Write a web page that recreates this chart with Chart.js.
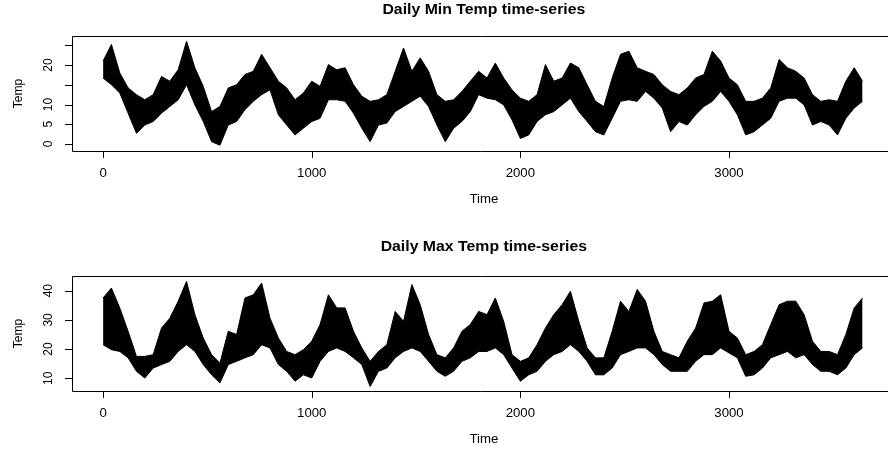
<!DOCTYPE html>
<html>
<head>
<meta charset="utf-8">
<script src="https://cdn.jsdelivr.net/npm/chart.js@4.4.1/dist/chart.umd.min.js"></script>
<style>
  body { margin: 0; background: #fff; }
  canvas { display: block; }
</style>
</head>
<body>
<canvas id="minChart" width="888" height="227"></canvas>
<canvas id="maxChart" width="888" height="227"></canvas>
<script>
// sample days (every 40 days), upper/lower edge of the daily series
const days = [0, 40, 80, 120, 160, 200, 240, 280, 320, 360, 400, 440, 480, 520, 560, 600, 640, 680, 720, 760,
  800, 840, 880, 920, 960, 1000, 1040, 1080, 1120, 1160, 1200, 1240, 1280, 1320, 1360, 1400, 1440, 1480, 1520, 1560,
  1600, 1640, 1680, 1720, 1760, 1800, 1840, 1880, 1920, 1960, 2000, 2040, 2080, 2120, 2160, 2200, 2240, 2280, 2320, 2360,
  2400, 2440, 2480, 2520, 2560, 2600, 2640, 2680, 2720, 2760, 2800, 2840, 2880, 2920, 2960, 3000, 3040, 3080, 3120, 3160,
  3200, 3240, 3280, 3320, 3360, 3400, 3440, 3480, 3520, 3560, 3600, 3640];

const minTempHigh = [21, 25.2, 18, 14.2, 12.5, 11.2, 12.5, 17.1, 15.9, 18.8, 26, 19.3, 14.6, 8.2, 9.5, 14.2, 15, 17.6, 18.4, 22.7,
  19.3, 15.9, 14.2, 11.2, 12.9, 15.9, 14.6, 20.1, 18.8, 19.3, 15, 12.1, 10.8, 11.2, 12.5, 18.4, 24.3, 18.4, 21.8, 18.4,
  12.5, 10.8, 11.2, 13.3, 15.9, 18.4, 16.7, 20.5, 16.7, 13.7, 11.6, 10.8, 12.5, 20.1, 15.9, 16.7, 20.5, 19.3, 15, 10.8,
  9.5, 16.7, 22.7, 23.5, 19.3, 18.4, 17.6, 15, 13.3, 12.5, 14.2, 16.7, 17.6, 23.5, 21, 16.7, 15, 10.8, 10.8, 11.6,
  14.2, 21.4, 19.3, 18.4, 16.7, 12.5, 10.8, 11.2, 10.8, 15.9, 19.3, 15.9];
const minTempLow = [16.7, 15, 12.9, 7.8, 2.7, 4.8, 5.7, 7.8, 9.5, 11.2, 15, 9.9, 5.7, 0.6, -0.3, 4.8, 5.7, 8.7, 10.8, 12.5,
  13.7, 7.4, 4.8, 2.3, 4, 5.7, 6.5, 11.2, 11.2, 10.8, 7.8, 4, 0.6, 4.8, 5.3, 8.2, 9.5, 10.8, 12.1, 9.5,
  4.8, 0.6, 4, 5.7, 8.2, 12.5, 11.6, 11.2, 9.9, 6.1, 1.4, 2.3, 5.7, 7.4, 8.2, 9.9, 11.6, 8.2, 5.7, 3.1,
  2.3, 6.5, 10.8, 11.2, 10.8, 13.3, 11.6, 9.1, 3.1, 5.7, 4.8, 7.4, 9.5, 10.8, 13.3, 10.8, 7.4, 2.3, 3.1, 4.8,
  6.5, 10.8, 11.6, 11.6, 9.9, 4.8, 5.7, 4.8, 2.3, 6.5, 9.1, 10.8];

const maxTempHigh = [37.5, 40.9, 34.1, 26.1, 17.5, 17.5, 18.1, 27.2, 30.6, 36.4, 43.2, 31.8, 23.8, 18.1, 15.2, 26.1, 25, 37.5, 38.6, 42.6,
  30.6, 23.8, 19.2, 18.1, 19.8, 22.7, 28.4, 38.6, 34.1, 34.1, 26.1, 20.4, 15.8, 19.2, 21.5, 32.9, 29.5, 42.1, 35.2, 25,
  18.1, 17, 20.4, 26.1, 28.4, 32.9, 31.8, 37.5, 29.5, 18.1, 15.8, 17, 21.5, 27.2, 31.8, 35.2, 39.8, 29.5, 20.4, 17,
  17, 26.1, 36.4, 32.9, 40.4, 36.4, 26.1, 19.2, 18.1, 17, 22.7, 27.2, 35.8, 36.4, 38.6, 26.1, 23.8, 18.1, 19.2, 21.5,
  28.4, 35.2, 36.4, 36.4, 31.8, 22.7, 19.2, 19.2, 18.1, 25, 34.1, 37.5];
const maxTempLow = [21.5, 19.8, 19.2, 17, 12.4, 10.1, 13.5, 14.7, 15.8, 19.2, 21.5, 19.2, 14.7, 11.2, 8.4, 14.7, 15.8, 17, 18.1, 21.5,
  20.4, 14.7, 12.4, 9, 11.2, 10.1, 15.8, 19.2, 20.4, 19.2, 17, 14.7, 7.2, 12.4, 13.5, 17, 19.2, 20.4, 19.2, 15.8,
  12.4, 10.7, 12.4, 15.8, 17, 19.2, 19.2, 20.4, 18.1, 13.5, 9, 11.2, 12.4, 15.8, 18.1, 19.2, 21.5, 19.2, 15.8, 11.2,
  11.2, 13.5, 18.1, 19.2, 20.4, 20.4, 18.1, 14.7, 12.4, 12.4, 12.4, 15.8, 18.1, 18.1, 20.4, 18.7, 17, 10.7, 11.2, 13.5,
  17, 18.1, 19.2, 17, 18.1, 14.7, 12.4, 12.4, 11.2, 13.5, 18.1, 20.4];

const xTicks = [0, 1000, 2000, 3000];
const minTicks = [0, 5, 10, 15, 20, 25];
const minTickLabels = ['0', '5', '10', '', '20', ''];
const maxTicks = [10, 20, 30, 40];
const maxTickLabels = ['10', '20', '30', '40'];

// R stretches text a little horizontally in this picture
const STRETCH = 1.1;
const AXIS_FONT = '12px "Liberation Sans", Arial, sans-serif';
const TITLE_FONT = 'bold 14.4px "Liberation Sans", Arial, sans-serif';
const X_MID = 1825; // middle of the full plot range (right edge is cut off)

function rText(ctx, str, x, y, font, rotate) {
    ctx.save();
    ctx.translate(x, y);
    ctx.scale(STRETCH, 1);
    if (rotate) ctx.rotate(-Math.PI / 2);
    ctx.font = font;
    ctx.fillStyle = '#000';
    ctx.textAlign = 'center';
    ctx.textBaseline = 'alphabetic';
    ctx.fillText(str, 0, 0);
    ctx.restore();
}

// draws the R style box, axes and titles from the chart's scales
const rFrame = {
    id: 'rFrame',
    afterDraw(chart, args, opts) {
        const { ctx, chartArea: a, scales: { x, y } } = chart;
        ctx.save();
        ctx.strokeStyle = '#000';
        ctx.lineWidth = 1;
        ctx.beginPath();
        ctx.moveTo(chart.width, a.top + 0.5);
        ctx.lineTo(a.left + 0.5, a.top + 0.5);
        ctx.lineTo(a.left + 0.5, a.bottom + 0.5);
        ctx.lineTo(chart.width, a.bottom + 0.5);
        xTicks.forEach(v => {
            const px = Math.round(x.getPixelForValue(v)) + 0.5;
            ctx.moveTo(px, a.bottom);
            ctx.lineTo(px, a.bottom + 7);
        });
        opts.yTicks.forEach(v => {
            const py = Math.round(y.getPixelForValue(v)) + 0.5;
            ctx.moveTo(a.left, py);
            ctx.lineTo(a.left - 7, py);
        });
        ctx.stroke();
        ctx.restore();

        xTicks.forEach(v => rText(ctx, String(v), x.getPixelForValue(v), a.bottom + 26, AXIS_FONT, false));
        opts.yTicks.forEach((v, i) => {
            if (opts.yLabels[i]) rText(ctx, opts.yLabels[i], 52, y.getPixelForValue(v), AXIS_FONT, true);
        });
        const mid = x.getPixelForValue(X_MID);
        rText(ctx, 'Time', mid, a.bottom + 52, AXIS_FONT, false);
        rText(ctx, 'Temp', 22, (a.top + a.bottom) / 2, AXIS_FONT, true);
        rText(ctx, opts.title, mid, a.top - opts.titleGap, TITLE_FONT, false);
    }
};

function makeChart(id, title, high, low, yMin, yMax, yTicks, yLabels, padTop, padBottom, titleGap) {
    const ctx = document.getElementById(id).getContext('2d');
    return new Chart(ctx, {
        type: 'line',
        data: {
            datasets: [
                {
                    data: days.map((d, i) => ({ x: d, y: high[i] })),
                    borderColor: '#000',
                    backgroundColor: '#000',
                    borderWidth: 1,
                    pointRadius: 0,
                    tension: 0,
                    fill: '+1',
                },
                {
                    data: days.map((d, i) => ({ x: d, y: low[i] })),
                    borderColor: '#000',
                    borderWidth: 1,
                    pointRadius: 0,
                    tension: 0,
                    fill: false,
                },
            ],
        },
        options: {
            responsive: false,
            devicePixelRatio: 1,
            animation: false,
            events: [],
            layout: { padding: { left: 72, right: 0, top: padTop, bottom: padBottom } },
            scales: {
                x: { type: 'linear', min: -149, max: 3762, display: false },
                y: { type: 'linear', min: yMin, max: yMax, display: false },
            },
            plugins: {
                legend: { display: false },
                tooltip: { enabled: false },
                rFrame: { title: title, yTicks: yTicks, yLabels: yLabels, titleGap: titleGap },
            },
        },
        plugins: [rFrame],
    });
}

makeChart('minChart', 'Daily Min Temp time-series', minTempHigh, minTempLow, -1.77, 27.34, minTicks, minTickLabels, 36, 76, 22);
makeChart('maxChart', 'Daily Max Temp time-series', maxTempHigh, maxTempLow, 5.66, 45.02, maxTicks, maxTickLabels, 49, 63, 25);
</script>
</body>
</html>
